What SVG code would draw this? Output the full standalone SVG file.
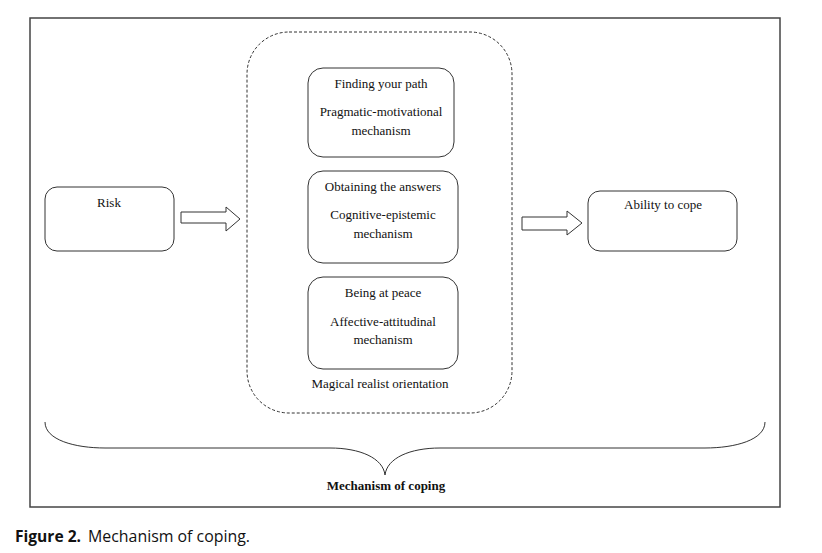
<svg xmlns="http://www.w3.org/2000/svg" width="822" height="553" viewBox="0 0 822 553">
<style>
.box{fill:#fff;stroke:#333;stroke-width:1}
.t{font-family:"Liberation Serif","Times New Roman",serif;font-size:13px;fill:#111;text-anchor:middle}
.arrow{fill:#fff;stroke:#333;stroke-width:1}
</style>
<rect x="0" y="0" width="822" height="553" fill="#fff"/>
<rect x="30" y="18" width="750" height="489" fill="none" stroke="#444" stroke-width="1.5"/>
<g id="magical">
<rect x="247" y="32" width="265" height="381" rx="42" fill="none" stroke="#333" stroke-width="1" stroke-dasharray="3,2"/>
<text class="t" x="380" y="388">Magical realist orientation</text>
</g>
<g id="risk">
<rect class="box" x="45" y="187" width="129" height="64" rx="12"/>
<text class="t" x="109" y="207">Risk</text>
</g>
<g id="pragmatic">
<rect class="box" x="308" y="68" width="146" height="89" rx="15"/>
<text class="t" x="381" y="88">Finding your path</text>
<text class="t" x="381" y="116">Pragmatic-motivational</text>
<text class="t" x="381" y="135">mechanism</text>
</g>
<g id="cognitive">
<rect class="box" x="308" y="171" width="150" height="92" rx="15"/>
<text class="t" x="383" y="191">Obtaining the answers</text>
<text class="t" x="383" y="219">Cognitive-epistemic</text>
<text class="t" x="383" y="238">mechanism</text>
</g>
<g id="affective">
<rect class="box" x="308" y="277" width="150" height="92" rx="15"/>
<text class="t" x="383" y="297">Being at peace</text>
<text class="t" x="383" y="326">Affective-attitudinal</text>
<text class="t" x="383" y="344">mechanism</text>
</g>
<g id="ability">
<rect class="box" x="588" y="191" width="149" height="60" rx="12"/>
<text class="t" x="663" y="209">Ability to cope</text>
</g>
<g id="connectors">
<polygon class="arrow" points="181,212 226,212 226,207 240,219 226,231 226,223 181,223"/>
<polygon class="arrow" points="522,217 567,217 567,211 582,223 567,235 567,230 522,230"/>
<path d="M45,422 C45,440 75,448 105,448 L330,448 C360,448 383,458 385,475 C387,458 410,448 440,448 L705,448 C735,448 765,440 765,422" fill="none" stroke="#333" stroke-width="1"/>
</g>
<text x="386" y="490" font-family="Liberation Serif,'Times New Roman',serif" font-size="13" font-weight="bold" text-anchor="middle" fill="#111">Mechanism of coping</text>
<text x="15" y="542" font-family="'Open Sans','Liberation Sans',sans-serif" font-size="16" fill="#111"><tspan font-weight="bold" textLength="66" lengthAdjust="spacingAndGlyphs">Figure 2.</tspan><tspan x="88" textLength="162" lengthAdjust="spacingAndGlyphs">Mechanism of coping.</tspan></text>
</svg>
